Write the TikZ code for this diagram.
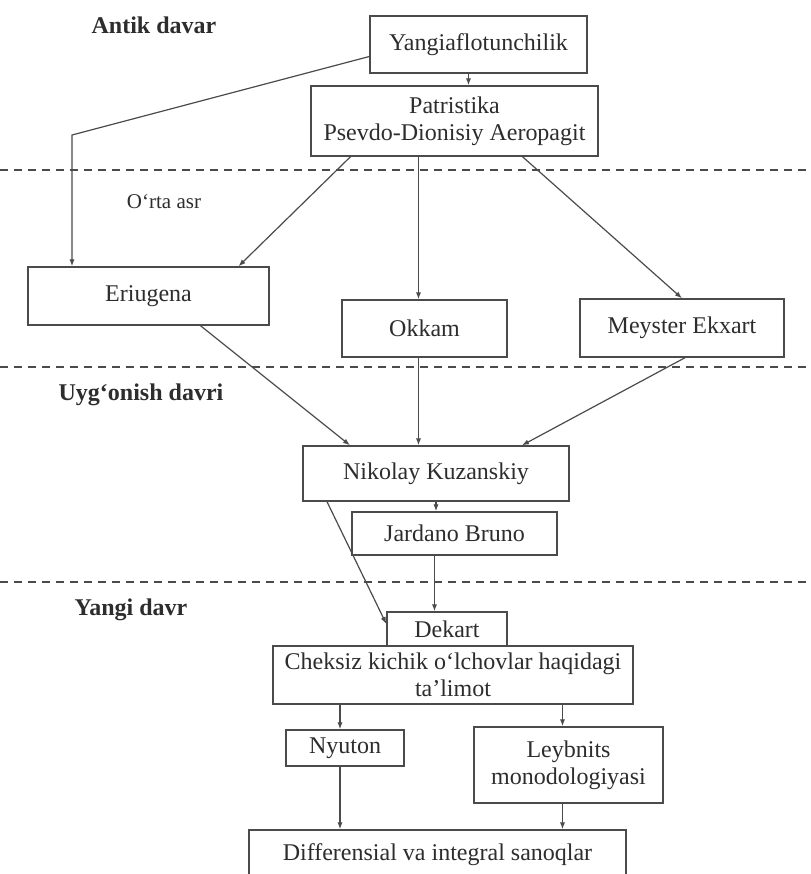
\documentclass[tikz,border=0pt]{standalone}
\usepackage{fontspec}
\setmainfont{Liberation Serif}
\usepackage{tikz}
\usetikzlibrary{arrows.meta, positioning, calc}
\definecolor{ink}{RGB}{45,45,45}
\definecolor{linegray}{RGB}{75,75,75}

\begin{document}
\begin{tikzpicture}[x=0.5pt, y=-0.5pt,
  box/.style={draw=linegray, line width=0.7pt, rectangle, inner sep=0pt, align=center,
    font=\fontsize{12}{13.5}\selectfont, text=ink},
  era/.style={font=\fontsize{12}{13.5}\selectfont\bfseries, text=ink},
  link/.style={draw=linegray, line width=0.6pt, -{Latex[length=3.5pt,width=2.6pt]}},
  sep/.style={draw=linegray, line width=0.8pt, dash pattern=on 4pt off 3pt}]
  \useasboundingbox[fill=white] (0,0) rectangle (810,874);

  % era separators
  \foreach \y in {170,367,582} {
    \draw[sep] (0,\y) -- (810,\y);
  }

  % era labels
  \node[era] (antik) at (154,25) {Antik davar};
  \node[font=\fontsize{10.5}{12}\selectfont, text=ink] (ortaasr) at (164,202) {O‘rta asr};
  \node[era] (uygonish) at (141,395) {Uyg‘onish davri};
  \node[era] (yangidavr) at (131,610) {Yangi davr};

  % boxes
  \node[box, minimum width=108.5pt, minimum height=28.5pt] (yangi) at (478.5,44.5) {Yangiaflotunchilik};
  \node[box, minimum width=143.5pt, minimum height=35pt] (patr) at (454.5,121) {Patristika\\Psevdo-Dionisiy Aeropagit};
  \node[box, minimum width=120.5pt, minimum height=29pt] (eriu) at (148.5,296) {Eriugena};
  \node[box, minimum width=82.5pt, minimum height=28.5pt] (okkam) at (424.5,328.5) {Okkam};
  \node[box, minimum width=102pt, minimum height=29pt] (ekxart) at (682,328) {Meyster Ekxart};
  \node[box, minimum width=133pt, minimum height=27.5pt] (kuzan) at (436,473.5) {Nikolay Kuzanskiy};
  \node[box, minimum width=102.5pt, minimum height=21.5pt] (bruno) at (454.5,533.5) {Jardano Bruno};
  \node[box, minimum width=60pt, minimum height=17pt] (dekart) at (447,629) {Dekart};
  \node[box, minimum width=180pt, minimum height=29pt] (cheksiz) at (453,675) {Cheksiz kichik o‘lchovlar haqidagi\\ta’limot};
  \node[box, minimum width=59pt, minimum height=18pt] (nyuton) at (345,748) {Nyuton};
  \node[box, minimum width=94.5pt, minimum height=38pt] (leybnits) at (568.5,765) {Leybnits\\monodologiyasi};
  \node[box, minimum width=188.5pt, minimum height=25pt] (diff) at (437.5,855) {Differensial va integral sanoqlar};

  % links
  \coordinate (bend) at (72,135);
  \draw[link] ([xshift=-5pt]yangi.south) -- ([xshift=-5pt]yangi.south |- patr.north);
  \draw[link] ([yshift=-6pt]yangi.west) -- (bend) -- (bend |- eriu.north);
  \draw[link] ([xshift=-52pt]patr.south) -- ([xshift=45pt]eriu.north);
  \draw[link] ([xshift=-18pt]patr.south) -- ([xshift=-18pt]patr.south |- okkam.north);
  \draw[link] ([xshift=34pt]patr.south) -- (ekxart.north);
  \draw[link] ([xshift=26pt]eriu.south) -- ([xshift=-43pt]kuzan.north);
  \draw[link] ([xshift=-3pt]okkam.south) -- ([xshift=-3pt]okkam.south |- kuzan.north);
  \draw[link] ([xshift=1.5pt]ekxart.south) -- ([xshift=43pt]kuzan.north);
  \draw[link] (kuzan.south) -- (kuzan.south |- bruno.north);
  \draw[link] ([xshift=-54.5pt]kuzan.south) -- ([yshift=2.5pt]dekart.west);
  \draw[link] ([xshift=-10pt]bruno.south) -- ([xshift=-10pt]bruno.south |- dekart.north);
  \draw[link] ([xshift=-2.5pt]nyuton.north |- cheksiz.south) -- ([xshift=-2.5pt]nyuton.north);
  \draw[link] ([xshift=-3pt]leybnits.north |- cheksiz.south) -- ([xshift=-3pt]leybnits.north);
  \draw[link] ([xshift=-2.5pt]nyuton.south) -- ([xshift=-2.5pt]nyuton.south |- diff.north);
  \draw[link] ([xshift=-3pt]leybnits.south) -- ([xshift=-3pt]leybnits.south |- diff.north);
\end{tikzpicture}
\end{document}
